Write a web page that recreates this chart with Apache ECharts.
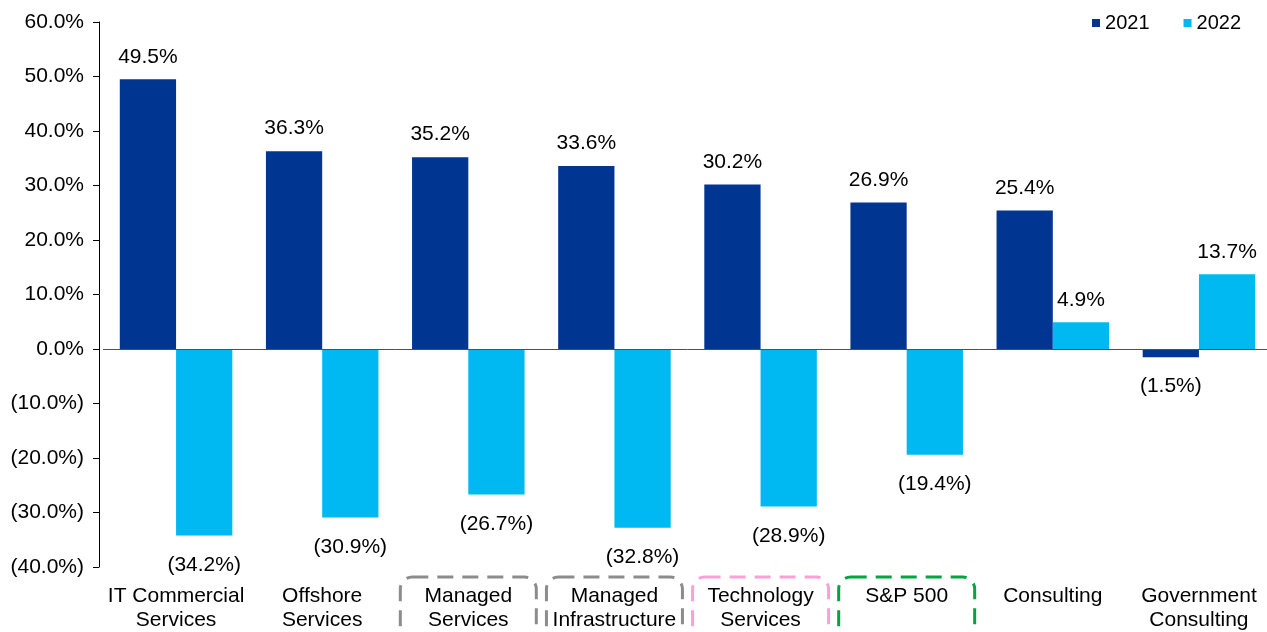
<!DOCTYPE html>
<html>
<head>
<meta charset="utf-8">
<script src="https://cdn.jsdelivr.net/npm/echarts@6/dist/echarts.min.js"></script>
<style>
  html, body { margin: 0; padding: 0; background: #fff; overflow: hidden; }
  #wrap { width: 1267px; height: 632px; overflow: hidden; position: relative; }
  /* plot area runs a few px past the right edge of the window, as in the original */
  #chart { width: 1272px; height: 632px; position: absolute; left: 0; top: 0; }
</style>
</head>
<body>
<div id="wrap"><div id="chart"></div></div>
<script>
const categories = [
  'IT Commercial\nServices',
  'Offshore\nServices',
  'Managed\nServices',
  'Managed\nInfrastructure',
  'Technology\nServices',
  'S&P 500',
  'Consulting',
  'Government\nConsulting',
]
const values2021 = [49.5, 36.3, 35.2, 33.6, 30.2, 26.9, 25.4, -1.5]
const values2022 = [-34.2, -30.9, -26.7, -32.8, -28.9, -19.4, 4.9, 13.7]
// categories that get a dashed box around their label, with the box colour
const boxedLabels = [
  [2, '#8c8c8c'],
  [3, '#8c8c8c'],
  [4, '#ff9fd6'],
  [5, '#00a443'],
]

const font = 'Liberation Sans, Arial, sans-serif'
const fontSize = 21

function pct(v) {
  return v < 0 ? `(${Math.abs(v).toFixed(1)}%)` : `${v.toFixed(1)}%`
}

function barData(values) {
  return values.map((v) => ({
    value: v,
    label: v < 0 ? { position: 'bottom', distance: 19 } : { position: 'top', distance: 12 },
  }))
}

const chart = echarts.init(document.getElementById('chart'))

const barLabel = {
  show: true,
  color: '#000',
  fontFamily: font,
  fontSize,
  formatter: (p) => pct(p.value),
}

chart.setOption({
  animation: false,
  backgroundColor: '#fff',
  color: ['#003591', '#00b9f2'],
  legend: {
    top: 8,
    right: 26,
    icon: 'rect',
    itemWidth: 8,
    itemHeight: 8,
    itemGap: 34,
    textStyle: { color: '#000', fontFamily: font, fontSize: 20 },
    data: ['2021', '2022'],
  },
  grid: { left: 103, right: 0, top: 22, bottom: 61 },
  xAxis: {
    type: 'category',
    data: categories,
    axisLine: { show: false, onZero: false },
    axisTick: { show: false },
    axisLabel: {
      interval: 0,
      margin: 17,
      color: '#000',
      fontFamily: font,
      fontSize,
      lineHeight: 24,
    },
  },
  yAxis: {
    type: 'value',
    min: -40,
    max: 60,
    interval: 10,
    offset: 4,
    axisLine: { show: true, lineStyle: { color: '#000', width: 1 } },
    axisTick: { show: true, length: 6, lineStyle: { color: '#000' } },
    splitLine: { show: false },
    axisLabel: {
      margin: 15,
      color: '#000',
      fontFamily: font,
      fontSize,
      formatter: pct,
    },
  },
  series: [
    {
      name: '2021',
      type: 'bar',
      data: barData(values2021),
      barGap: '0%',
      barCategoryGap: '23%',
      label: barLabel,
      markLine: {
        silent: true,
        symbol: 'none',
        label: { show: false },
        lineStyle: { color: '#505050', type: 'solid', width: 1 },
        data: [{ yAxis: 0 }],
      },
    },
    {
      name: '2022',
      type: 'bar',
      data: barData(values2022),
      barGap: '0%',
      barCategoryGap: '23%',
      label: barLabel,
    },
  ],
})

// dashed rounded boxes around some category labels, placed from the axis
const boxTop = 577
const boxWidth = 136
chart.setOption({
  graphic: boxedLabels.map(([idx, color]) => {
    const cx = chart.convertToPixel({ xAxisIndex: 0 }, idx)
    return {
      type: 'rect',
      silent: true,
      shape: { x: cx - boxWidth / 2, y: boxTop, width: boxWidth, height: 90, r: 12 },
      style: { fill: 'none', stroke: color, lineWidth: 3, lineDash: [16, 9] },
    }
  }),
})
</script>
</body>
</html>
